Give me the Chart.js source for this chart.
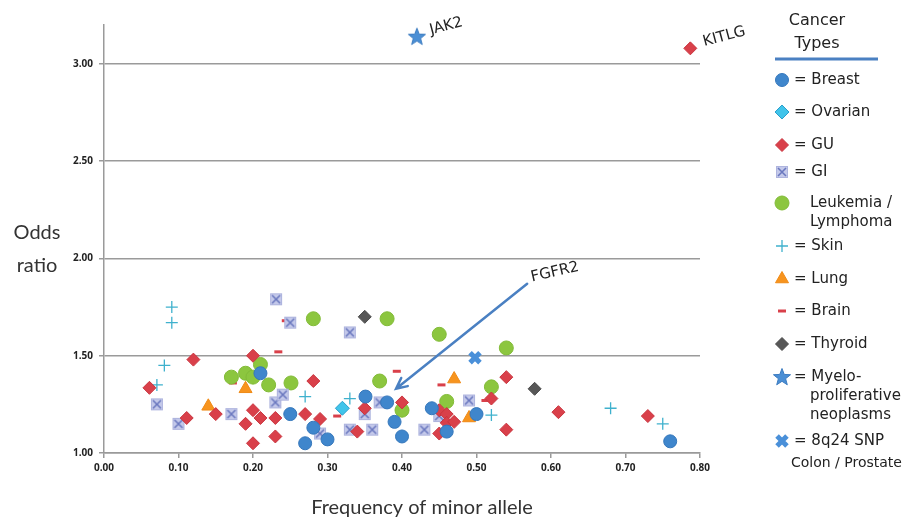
<!DOCTYPE html>
<html>
<head>
<meta charset="utf-8">
<script src="https://cdn.jsdelivr.net/npm/chart.js@4.4.1/dist/chart.umd.min.js"></script>
<style>
  html, body { margin: 0; padding: 0; background: #fff; }
  #wrap { width: 910px; height: 520px; }
</style>
</head>
<body>
<div id="wrap"><canvas id="graph" width="910" height="520"></canvas></div>
<script>
// Odds ratio vs frequency of minor allele, one array per cancer type
var breast = [[0.21,1.41],[0.25,1.20],[0.27,1.05],[0.281,1.13],[0.30,1.07],[0.351,1.29],[0.38,1.26],
              [0.39,1.16],[0.40,1.085],[0.44,1.23],[0.46,1.11],[0.50,1.20],[0.76,1.06]];
var ovarian = [[0.32,1.23]];
var gu = [[0.061,1.335],[0.111,1.18],[0.12,1.48],[0.15,1.20],[0.19,1.15],[0.20,1.50],[0.20,1.22],
          [0.20,1.05],[0.21,1.18],[0.23,1.18],[0.23,1.085],[0.27,1.20],[0.281,1.37],[0.29,1.175],
          [0.34,1.11],[0.35,1.23],[0.40,1.26],[0.45,1.22],[0.46,1.20],[0.46,1.155],[0.47,1.16],
          [0.45,1.10],[0.52,1.28],[0.54,1.39],[0.54,1.12],[0.61,1.21],[0.73,1.19],[0.787,3.08]];
var gi = [[0.071,1.25],[0.10,1.15],[0.171,1.20],[0.23,1.26],[0.24,1.30],[0.231,1.79],[0.25,1.67],
          [0.29,1.10],[0.33,1.62],[0.33,1.12],[0.35,1.20],[0.36,1.12],[0.37,1.26],[0.43,1.12],
          [0.45,1.19],[0.49,1.27]];
var leukemia = [[0.171,1.39],[0.19,1.41],[0.20,1.39],[0.21,1.455],[0.221,1.35],[0.251,1.36],[0.281,1.69],
                [0.37,1.37],[0.38,1.69],[0.40,1.22],[0.45,1.61],[0.46,1.265],[0.52,1.34],[0.54,1.54]];
var skin = [[0.071,1.35],[0.081,1.45],[0.091,1.75],[0.091,1.67],[0.27,1.29],[0.33,1.28],[0.52,1.195],
            [0.68,1.23],[0.75,1.15]];
var lung = [[0.14,1.24],[0.19,1.33],[0.47,1.38],[0.49,1.18]];
var brain = [[0.173,1.36],[0.234,1.52],[0.244,1.68],[0.313,1.19],[0.393,1.42],[0.453,1.35],[0.512,1.27]];
var thyroid = [[0.35,1.70],[0.578,1.33]];
var myelo = [[0.42,3.14]];
var snp8q24 = [[0.498,1.49]];

var yTicks = [1.00, 1.50, 2.00, 2.50, 3.00];

// gene callouts: [text, x, y]
var callouts = [['JAK2', 0.42, 3.14], ['KITLG', 0.787, 3.08]];
var arrowFrom = [0.568, 1.87];
var arrowTo = [0.392, 1.33];

function pts(a) {
    return a.map(function (p) { return { x: p[0], y: p[1] }; });
}

// little canvases for the marker shapes Chart.js doesn't have
function giMarker() {
    var c = document.createElement('canvas');
    c.width = 14; c.height = 14;
    var g = c.getContext('2d');
    g.fillStyle = '#c4c9ea';
    g.fillRect(1, 1, 12, 12);
    g.strokeStyle = '#aeb4de';
    g.lineWidth = 1;
    g.strokeRect(1.5, 1.5, 11, 11);
    g.strokeStyle = '#6a78bf';
    g.lineWidth = 1.6;
    g.beginPath();
    g.moveTo(3, 3); g.lineTo(11, 11);
    g.moveTo(11, 3); g.lineTo(3, 11);
    g.stroke();
    return c;
}

function starMarker() {
    var c = document.createElement('canvas');
    c.width = 20; c.height = 20;
    var g = c.getContext('2d');
    g.fillStyle = '#4b8fd5';
    g.strokeStyle = '#3b7bc0';
    g.lineWidth = 1;
    g.beginPath();
    for (var i = 0; i < 10; i++) {
        var r = i % 2 === 0 ? 9 : 3.8;
        var a = -Math.PI / 2 + i * Math.PI / 5;
        var px = 10 + r * Math.cos(a), py = 10.5 + r * Math.sin(a);
        if (i === 0) g.moveTo(px, py); else g.lineTo(px, py);
    }
    g.closePath();
    g.fill();
    g.stroke();
    return c;
}

var giImg = giMarker();
var starImg = starMarker();

var series = [
    { label: 'Breast', data: breast, pointStyle: 'circle', radius: 6.5, bg: '#3f86cc', border: '#3577bb', bw: 1 },
    { label: 'Ovarian', data: ovarian, pointStyle: 'rectRot', radius: 7, bg: '#41c4ea', border: '#2a9fcc', bw: 1 },
    { label: 'GU', data: gu, pointStyle: 'rectRot', radius: 6.5, bg: '#d9404a', border: '#c9353f', bw: 1 },
    { label: 'GI', data: gi, pointStyle: giImg, radius: 7, bg: '#c4c9ea', border: '#6a78bf', bw: 1 },
    { label: 'Leukemia / Lymphoma', data: leukemia, pointStyle: 'circle', radius: 7, bg: '#8cc63f', border: '#82bb38', bw: 1 },
    { label: 'Skin', data: skin, pointStyle: 'cross', radius: 6, bg: '#3fb1cd', border: '#3fb1cd', bw: 1.3 },
    { label: 'Lung', data: lung, pointStyle: 'triangle', radius: 7.5, bg: '#f7941e', border: '#ef8a16', bw: 1 },
    { label: 'Brain', data: brain, pointStyle: 'line', radius: 4, bg: '#d9404a', border: '#d9404a', bw: 3 },
    { label: 'Thyroid', data: thyroid, pointStyle: 'rectRot', radius: 6.5, bg: '#575757', border: '#4a4a4a', bw: 1 },
    { label: 'Myeloproliferative neoplasms', data: myelo, pointStyle: starImg, radius: 10, bg: '#4b8fd5', border: '#3b7bc0', bw: 1 },
    { label: '8q24 SNP', data: snp8q24, pointStyle: 'crossRot', radius: 7, bg: '#4a90d9', border: '#4a90d9', bw: 5 }
];

var datasets = series.map(function (s) {
    return {
        label: s.label,
        data: pts(s.data),
        pointStyle: s.pointStyle,
        pointRadius: s.radius,
        pointBackgroundColor: s.bg,
        pointBorderColor: s.border,
        pointBorderWidth: s.bw,
        showLine: false
    };
});

// legend text per row: [x, text] lines, 19px apart, starting at row y
var legendRows = [
    { y: 80, lines: [[794, '= Breast']] },
    { y: 112, lines: [[794, '= Ovarian']] },
    { y: 145, lines: [[794, '= GU']] },
    { y: 172, lines: [[794, '= GI']] },
    { y: 203, lines: [[810, 'Leukemia /'], [810, 'Lymphoma']] },
    { y: 246, lines: [[794, '= Skin']] },
    { y: 279, lines: [[794, '= Lung']] },
    { y: 311, lines: [[794, '= Brain']] },
    { y: 344, lines: [[794, '= Thyroid']] },
    { y: 377, lines: [[794, '= Myelo-'], [810, 'proliferative'], [810, 'neoplasms']] },
    { y: 441, lines: [[794, '= 8q24 SNP']] }
];

var extras = {
    id: 'extras',
    afterDraw: function (chart) {
        var ctx = chart.ctx;
        var xs = chart.scales.x, ys = chart.scales.y;
        ctx.save();

        // axis titles
        ctx.fillStyle = '#333';
        ctx.font = '20px Lato, "Open Sans", sans-serif';
        ctx.textAlign = 'center';
        ctx.textBaseline = 'middle';
        ctx.fillText('Odds', 37, 233);
        ctx.fillText('ratio', 37, 266);
        ctx.fillText('Frequency of minor allele', (xs.left + xs.right) / 2 + 20, 508);

        // gene callouts
        ctx.fillStyle = '#222';
        ctx.font = '15px "DejaVu Sans", sans-serif';
        ctx.textAlign = 'left';
        callouts.forEach(function (c) {
            var px = xs.getPixelForValue(c[1]);
            var py = ys.getPixelForValue(c[2]);
            ctx.save();
            ctx.translate(px + 13, py - 6);
            ctx.rotate(-15 * Math.PI / 180);
            ctx.fillText(c[0], 0, 0);
            ctx.restore();
        });

        // FGFR2 arrow
        var x1 = xs.getPixelForValue(arrowFrom[0]), y1 = ys.getPixelForValue(arrowFrom[1]);
        var x2 = xs.getPixelForValue(arrowTo[0]), y2 = ys.getPixelForValue(arrowTo[1]);
        var ang = Math.atan2(y2 - y1, x2 - x1);
        ctx.strokeStyle = '#4a80c2';
        ctx.lineWidth = 2.5;
        ctx.lineCap = 'round';
        ctx.beginPath();
        ctx.moveTo(x1, y1);
        ctx.lineTo(x2, y2);
        ctx.moveTo(x2 - 12 * Math.cos(ang - 0.45), y2 - 12 * Math.sin(ang - 0.45));
        ctx.lineTo(x2, y2);
        ctx.lineTo(x2 - 12 * Math.cos(ang + 0.45), y2 - 12 * Math.sin(ang + 0.45));
        ctx.stroke();
        ctx.save();
        ctx.translate(x1 + 4, y1 - 6);
        ctx.rotate(-13 * Math.PI / 180);
        ctx.fillStyle = '#222';
        ctx.fillText('FGFR2', 0, 0);
        ctx.restore();

        // legend title
        ctx.fillStyle = '#222';
        ctx.font = '16px "DejaVu Sans", sans-serif';
        ctx.textAlign = 'center';
        ctx.fillText('Cancer', 817, 21);
        ctx.fillText('Types', 817, 44);
        ctx.strokeStyle = '#4a80c2';
        ctx.lineWidth = 3;
        ctx.lineCap = 'butt';
        ctx.beginPath();
        ctx.moveTo(775, 59);
        ctx.lineTo(878, 59);
        ctx.stroke();

        // legend entries
        ctx.textAlign = 'left';
        series.forEach(function (s, i) {
            var row = legendRows[i];
            ctx.fillStyle = s.bg;
            ctx.strokeStyle = s.border;
            ctx.lineWidth = s.bw;
            Chart.helpers.drawPoint(ctx, {
                pointStyle: s.pointStyle,
                radius: s.radius,
                rotation: 0,
                borderWidth: s.bw
            }, 782, row.y);
            ctx.fillStyle = '#222';
            ctx.font = '15px "DejaVu Sans", sans-serif';
            row.lines.forEach(function (ln, k) {
                ctx.fillText(ln[1], ln[0], row.y + k * 19);
            });
        });
        ctx.font = '14px "DejaVu Sans", sans-serif';
        ctx.fillText('Colon / Prostate', 791, 463);

        ctx.restore();
    }
};

function drawGraph() {
    var el = document.getElementById('graph');
    new Chart(el, {
        type: 'scatter',
        data: { datasets: datasets },
        options: {
            responsive: false,
            animation: false,
            events: [],
            layout: { padding: { top: 25, right: 210, bottom: 0, left: 0 } },
            plugins: {
                legend: { display: false },
                tooltip: { enabled: false }
            },
            scales: {
                x: {
                    type: 'linear',
                    min: 0,
                    max: 0.8,
                    afterFit: function (s) { s.height = 67; },
                    ticks: {
                        stepSize: 0.1,
                        padding: 4,
                        color: '#222',
                        font: { family: '"Open Sans", sans-serif', size: 10, weight: 'bold' },
                        callback: function (v) { return Number(v).toFixed(2); }
                    },
                    grid: { drawOnChartArea: false, drawTicks: true, tickLength: 5, color: '#9a9a9a', lineWidth: 1.5 },
                    border: { display: true, color: '#9a9a9a', width: 1.5 }
                },
                y: {
                    type: 'linear',
                    min: 1,
                    max: 3.2,
                    afterFit: function (s) { s.width = 104; },
                    afterBuildTicks: function (s) {
                        s.ticks = yTicks.map(function (v) { return { value: v }; });
                    },
                    ticks: {
                        padding: 6,
                        color: '#222',
                        font: { family: '"Open Sans", sans-serif', size: 10, weight: 'bold' },
                        callback: function (v) { return Number(v).toFixed(2); }
                    },
                    grid: { color: '#9a9a9a', lineWidth: 1.5, tickLength: 5 },
                    border: { display: true, color: '#9a9a9a', width: 1.5 }
                }
            }
        },
        plugins: [extras]
    });
}

window.onload = drawGraph;
</script>
</body>
</html>
